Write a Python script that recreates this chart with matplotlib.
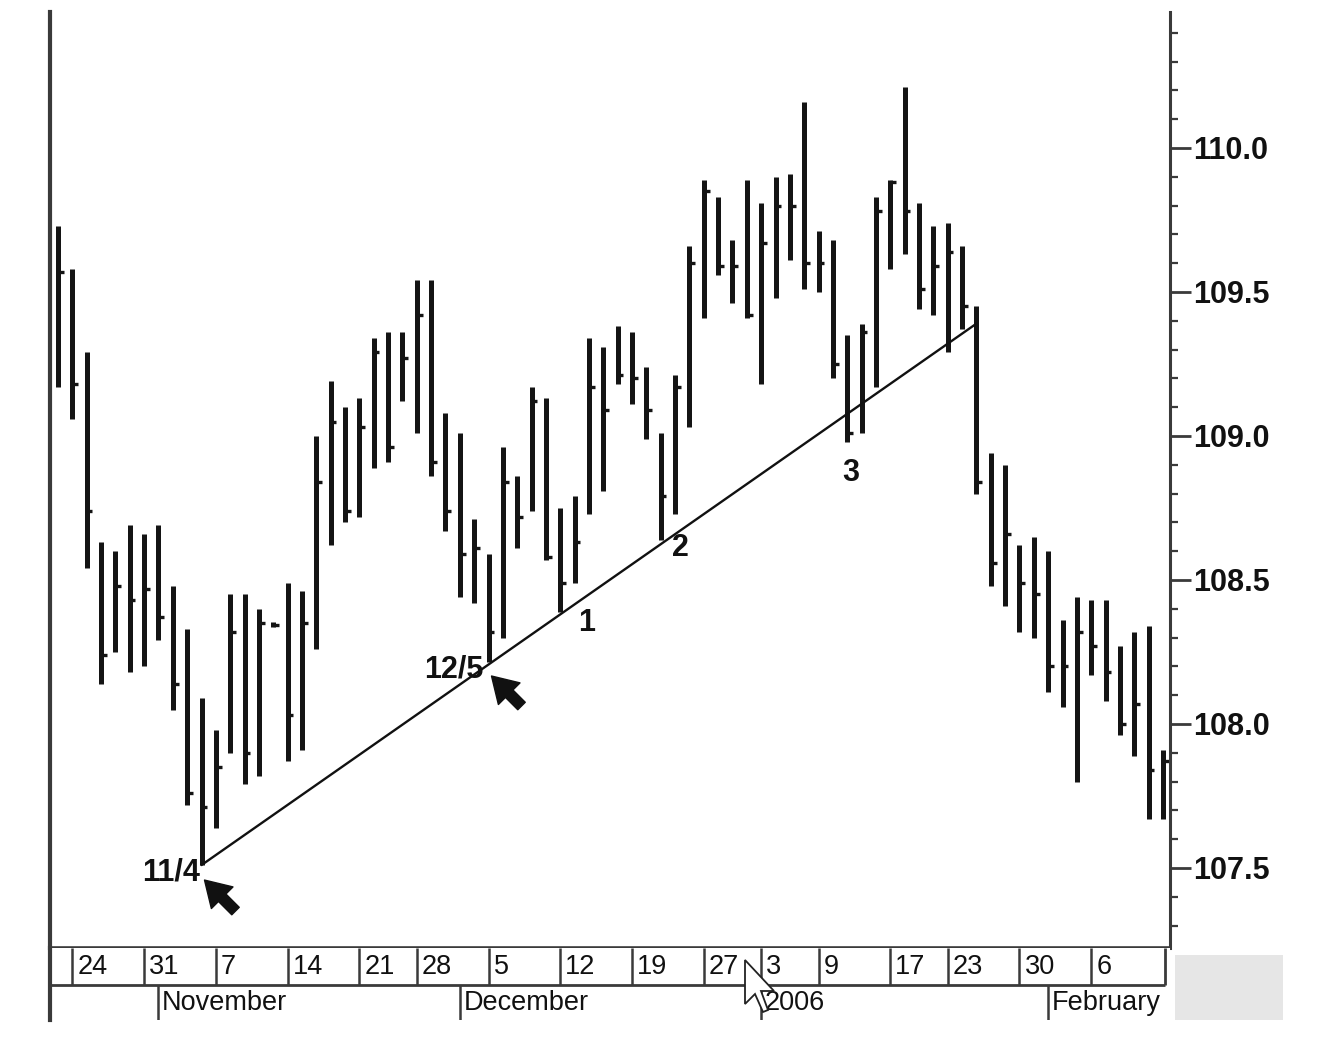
import matplotlib
matplotlib.use("Agg")
import matplotlib.pyplot as plt
import matplotlib.transforms as mtransforms
from matplotlib.patches import Rectangle, Polygon
from matplotlib.ticker import FixedLocator, FuncFormatter
import numpy as np
import pandas as pd

plt.rcParams['font.family'] = ['Liberation Sans', 'DejaVu Sans']

W, H = 1328, 1056

# trading days 21 Oct 2005 - 13 Feb 2006, exchange holidays taken out
holidays = ['2005-11-24', '2005-12-26', '2006-01-02', '2006-01-16']
days = pd.bdate_range('2005-10-21', '2006-02-13')
days = days[~days.isin(pd.to_datetime(holidays))]

high = [109.73, 109.58, 109.29, 108.63, 108.60, 108.69, 108.66, 108.69, 108.48, 108.33,
        108.09, 107.98, 108.45, 108.45, 108.40, 108.355, 108.49, 108.46, 109.00, 109.19,
        109.10, 109.13, 109.34, 109.36, 109.36, 109.54, 109.54, 109.08, 109.01, 108.71,
        108.59, 108.96, 108.86, 109.17, 109.13, 108.75, 108.79, 109.34, 109.31, 109.38,
        109.36, 109.24, 109.01, 109.21, 109.66, 109.89, 109.83, 109.68, 109.89, 109.81,
        109.90, 109.91, 110.16, 109.71, 109.68, 109.35, 109.39, 109.83, 109.89, 110.21,
        109.81, 109.73, 109.74, 109.66, 109.45, 108.94, 108.90, 108.62, 108.65, 108.60,
        108.36, 108.44, 108.43, 108.43, 108.27, 108.32, 108.34, 107.91]
low = [109.17, 109.06, 108.54, 108.14, 108.25, 108.18, 108.20, 108.29, 108.05, 107.72,
       107.51, 107.64, 107.90, 107.79, 107.82, 108.335, 107.87, 107.91, 108.26, 108.62,
       108.70, 108.72, 108.89, 108.91, 109.12, 109.01, 108.86, 108.67, 108.44, 108.42,
       108.215, 108.30, 108.61, 108.74, 108.57, 108.39, 108.49, 108.73, 108.81, 109.18,
       109.11, 108.99, 108.64, 108.73, 109.03, 109.41, 109.56, 109.46, 109.41, 109.18,
       109.48, 109.61, 109.51, 109.50, 109.20, 108.98, 109.01, 109.17, 109.58, 109.63,
       109.44, 109.42, 109.29, 109.37, 108.80, 108.48, 108.41, 108.32, 108.30, 108.11,
       108.06, 107.80, 108.17, 108.08, 107.96, 107.89, 107.67, 107.67]
close = [109.57, 109.18, 108.74, 108.24, 108.48, 108.43, 108.47, 108.37, 108.14, 107.76,
         107.71, 107.85, 108.32, 107.90, 108.35, 108.345, 108.03, 108.35, 108.84, 109.05,
         108.74, 109.03, 109.29, 108.96, 109.27, 109.42, 108.91, 108.74, 108.59, 108.61,
         108.32, 108.84, 108.72, 109.12, 108.58, 108.49, 108.63, 109.17, 109.09, 109.21,
         109.20, 109.09, 108.79, 109.17, 109.60, 109.85, 109.59, 109.59, 109.42, 109.67,
         109.80, 109.80, 109.60, 109.60, 109.25, 109.01, 109.36, 109.78, 109.88, 109.78,
         109.51, 109.59, 109.64, 109.45, 108.84, 108.56, 108.66, 108.49, 108.45, 108.20,
         108.20, 108.32, 108.27, 108.18, 108.00, 108.07, 107.84, 107.87]

# trend line from the 11/4 low
trend_idx = [10, 64]
trend_val = [107.51, 109.39]

# notes: text, bar index, offset px (x, y) from the bar low, alignment
notes = [('11/4', 10, -2, -7, 'right'),
         ('12/5', 30, -5, -7, 'right'),
         ('1', 35, 26, -11, 'center'),
         ('2', 42, 20, -8, 'center'),
         ('3', 55, 3, -31, 'center')]
arrows = [(10, (3, -15), (34, -46)),
          (30, (3, -14), (33, -44))]

n = len(high)
idx = np.arange(n)

fig = plt.figure(figsize=(W / 100, H / 100), dpi=100)
fig.patch.set_facecolor('white')

def fx(px):
    return px / W

def fy(py):
    return 1 - py / H

ax = fig.add_axes([fx(50), fy(948), fx(1170) - fx(50), fy(12) - fy(948)])
dax = fig.add_axes([fx(50), fy(1020), fx(1170) - fx(50), fy(948) - fy(1020)], sharex=ax)

step = (1163 - 58) / (n - 1)
ax.set_xlim(-(58 - 50) / step, (n - 1) + (1170 - 1163) / step)
ax.set_ylim(107.222, 110.472)

bar_col = '#141414'
ax.vlines(idx, low, high, color=bar_col, lw=3.6)
ax.hlines(close, idx, idx + 0.4, color=bar_col, lw=2.4)

ax.plot(trend_idx, trend_val, color='#111111', lw=1.7, solid_capstyle='round')

for txt, i, dx, dy, ha in notes:
    tr = mtransforms.offset_copy(ax.transData, fig=fig, x=dx, y=dy, units='dots')
    ax.text(i, low[i], txt, transform=tr, ha=ha, va='center',
            fontsize=22, fontweight='bold', color='#111111')

for i, head, tail in arrows:
    tr_h = mtransforms.offset_copy(ax.transData, fig=fig, x=head[0], y=head[1], units='dots')
    tr_t = mtransforms.offset_copy(ax.transData, fig=fig, x=tail[0], y=tail[1], units='dots')
    ax.annotate('', xy=(i, low[i]), xycoords=tr_h, xytext=(i, low[i]), textcoords=tr_t,
                arrowprops=dict(arrowstyle='simple,head_length=0.9,head_width=1.1,tail_width=0.38',
                                mutation_scale=20, color='#111111', shrinkA=0, shrinkB=0))

# axes styling
spine_col = '#3a3a3a'
ax.spines['top'].set_visible(False)
ax.spines['left'].set_linewidth(3)
ax.spines['left'].set_color(spine_col)
ax.spines['right'].set_linewidth(2.2)
ax.spines['right'].set_color(spine_col)
ax.spines['bottom'].set_linewidth(2.6)
ax.spines['bottom'].set_color(spine_col)

ax.yaxis.tick_right()
ax.yaxis.set_major_locator(FixedLocator([107.5, 108.0, 108.5, 109.0, 109.5, 110.0]))
ax.yaxis.set_minor_locator(FixedLocator(np.round(np.arange(107.3, 110.45, 0.1), 1)))
ax.yaxis.set_major_formatter(FuncFormatter(lambda v, p: f'{v:.1f}'))
ax.tick_params(axis='y', which='major', length=15, width=2, color=spine_col, pad=2,
               labelsize=22, labelcolor='#111111')
ax.tick_params(axis='y', which='minor', length=6, width=1.6, color=spine_col)
for lab in ax.get_yticklabels():
    lab.set_fontweight('bold')
ax.tick_params(axis='x', which='both', bottom=False, labelbottom=False)

# date strip
dax.set_ylim(0, 72)
for s in ['top', 'right', 'bottom']:
    dax.spines[s].set_visible(False)
dax.spines['left'].set_linewidth(3)
dax.spines['left'].set_color(spine_col)
dax.tick_params(axis='both', which='both', left=False, bottom=False,
                labelleft=False, labelbottom=False)

row_end = (n - 1) + 0.15
wk = days.isocalendar().week.values
# the last bar opens a new week but has no room for a label
week_start = [i for i in range(1, n - 1) if wk[i] != wk[i - 1]]
month_start = [i for i in range(1, n) if days[i].month != days[i - 1].month]

dax.hlines(35, ax.get_xlim()[0], row_end, color=spine_col, lw=2)
dax.vlines(row_end, 35, 72, color=spine_col, lw=2)
dax.vlines(week_start, 35, 72, color=spine_col, lw=1.8)
for i in week_start:
    dax.text(i + 0.35, 53.5, str(days[i].day), ha='left', va='center',
             fontsize=19.5, color='#111111')
dax.vlines(month_start, 0, 35, color=spine_col, lw=1.8)
for i in month_start:
    d = days[i]
    name = str(d.year) if d.month == 1 else d.strftime('%B')
    dax.text(i + 0.25, 17.5, name, ha='left', va='center',
             fontsize=19.5, color='#111111')

# grey box at the lower right corner
fig.add_artist(Rectangle((fx(1175), fy(1020)), fx(1283) - fx(1175), fy(955) - fy(1020),
                         transform=fig.transFigure, facecolor='#e6e6e6', edgecolor='none'))

# mouse pointer left on the screenshot
tip_x, tip_y = 745, 960
shape = [(0, 0), (0, 44), (10, 34), (18, 52), (23, 50), (16, 31), (29, 31)]
pts = [(fx(tip_x + sx), fy(tip_y + sy)) for sx, sy in shape]
fig.add_artist(Polygon(pts, closed=True, transform=fig.transFigure,
                       facecolor='white', edgecolor='#222222', lw=1.3))

fig.savefig('out.png', dpi=100, facecolor='white')
